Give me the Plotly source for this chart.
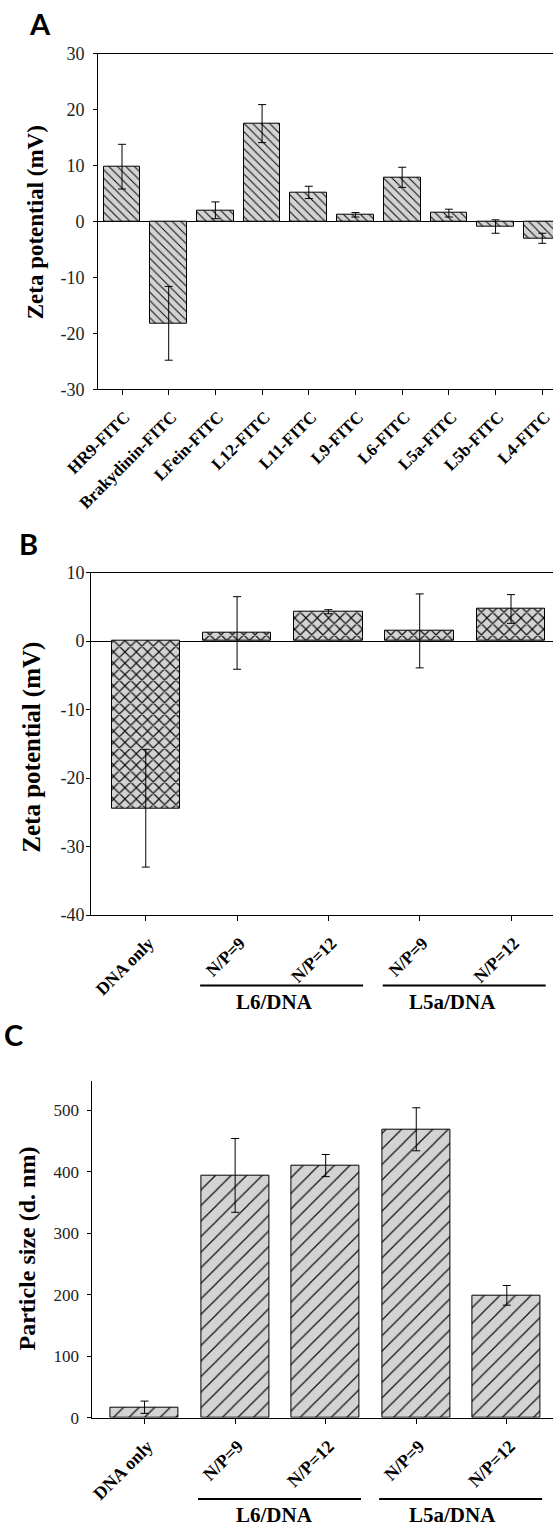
import plotly.graph_objects as go

W, H = 553, 1528

# ---------------- data ----------------
a_labels = ["HR9-FITC", "Brakydinin-FITC", "LFein-FITC", "L12-FITC", "L11-FITC",
            "L9-FITC", "L6-FITC", "L5a-FITC", "L5b-FITC", "L4-FITC"]
a_values = [9.8, -18.2, 2.0, 17.5, 5.2, 1.2, 7.9, 1.5, -0.9, -3.0]
a_errors = [4.0, 6.6, 1.5, 3.4, 1.1, 0.4, 1.8, 0.7, 1.2, 0.9]

bc_labels = ["DNA only", "N/P=9", "N/P=12", "N/P=9", "N/P=12"]
b_values = [-24.4, 1.2, 4.3, 1.5, 4.7]
b_errors = [8.6, 5.3, 0.3, 5.4, 2.1]

c_values = [17, 394, 410, 469, 199]
c_errors = [10, 60, 18, 35, 16]

groups = ["L6/DNA", "L5a/DNA"]
group_members = [[1, 2], [3, 4]]

a_yticks = [-30, -20, -10, 0, 10, 20, 30]
b_yticks = [-40, -30, -20, -10, 0, 10]
c_yticks = [0, 100, 200, 300, 400, 500]

# ---------------- helpers ----------------
def px_x(p):
    return p / W

def px_y(p):
    return 1 - p / H

SERIF = "Liberation Serif"
BAR_BG = "#d3d3d3"

def bar_trace(x, y, err, shape, xa, ya, width, size, solidity):
    return go.Bar(
        x=x, y=y, xaxis=xa, yaxis=ya, width=width,
        marker=dict(color=BAR_BG, line=dict(color="black", width=1),
                    pattern=dict(shape=shape, bgcolor=BAR_BG, fgcolor="#111111",
                                 size=size, solidity=solidity, fillmode="replace")),
        error_y=dict(type="data", array=err, color="black", thickness=1, width=4),
        showlegend=False,
    )

fig = go.Figure()
ia = list(range(len(a_labels)))
ib = list(range(len(bc_labels)))
fig.add_trace(bar_trace(ia, a_values, a_errors, "\\", "x", "y", 0.786, 6, 0.18))
fig.add_trace(bar_trace(ib, b_values, b_errors, "x", "x2", "y2", 0.75, 8, 0.28))
fig.add_trace(bar_trace(ib, c_values, c_errors, "/", "x3", "y3", 0.75, 11, 0.11))

def xaxis(domain_left, rng, labels, mirror, anchor, fs):
    return dict(domain=[px_x(domain_left), 1], range=rng, anchor=anchor, automargin=False,
                tickmode="array", tickvals=list(range(len(labels))), ticktext=[f"<b>{t}</b>" for t in labels],
                tickangle=-45, ticks="outside", ticklen=5, tickcolor="black",
                ticklabelstandoff=5, ticklabelshift=3, ticklabeloverflow="allow",
                showline=True, linecolor="black", linewidth=1, mirror=mirror,
                showgrid=False, zeroline=False,
                tickfont=dict(family=SERIF, size=fs, color="black"))

def yaxis(top, bottom, rng, ticks, anchor, zero, fs, standoff):
    return dict(domain=[px_y(bottom), px_y(top)], range=rng, anchor=anchor, automargin=False,
                tickmode="array", tickvals=ticks, ticktext=[str(t) for t in ticks],
                ticks="outside", ticklen=4, tickcolor="black", ticklabelstandoff=standoff,
                showline=True, linecolor="black", linewidth=1, showgrid=False,
                zeroline=zero, zerolinecolor="black", zerolinewidth=1,
                tickfont=dict(family=SERIF, size=fs, color="#222222"))

fig.update_layout(
    width=W, height=H, margin=dict(l=0, r=0, t=0, b=0, autoexpand=False),
    paper_bgcolor="white", plot_bgcolor="white", bargap=0,
    xaxis=xaxis(98.0, [-0.514, 9.23], a_labels, True, "y", 17),
    yaxis=yaxis(53.7, 389.3, [-30, 30], a_yticks, "x", True, 18, 5),
    xaxis2=xaxis(91.0, [-0.6, 4.46], bc_labels, True, "y2", 17.5),
    yaxis2=yaxis(572.7, 915, [-40, 10], b_yticks, "x2", True, 18, -2),
    xaxis3=xaxis(92.4, [-0.576, 4.51], bc_labels, False, "y3", 18),
    yaxis3=yaxis(1080.7, 1417.7, [0, 548], c_yticks, "x3", False, 17, 5),
)

ann = []
# panel letters
for letter, x, y in [("A", 39.5, 23), ("B", 28, 544), ("C", 13, 1034)]:
    ann.append(dict(text=f"<b>{letter}</b>", x=px_x(x), y=px_y(y), xref="paper", yref="paper",
                    showarrow=False, xanchor="center", yanchor="middle",
                    font=dict(family="Lato", size=29, color="black")))
# y-axis titles
for title, x, y, fs in [("Zeta potential (mV)", 35.3, 222, 23),
                        ("Zeta potential (mV)", 31.7, 747, 25),
                        ("Particle size (d. nm)", 26.5, 1249, 24)]:
    ann.append(dict(text=f"<b>{title}</b>", x=px_x(x), y=px_y(y), xref="paper", yref="paper",
                    showarrow=False, xanchor="center", yanchor="middle", textangle=-90,
                    font=dict(family=SERIF, size=fs, color="black")))

shapes = []
# group brackets for B and C: (axis, line y px, text y px, line offsets, text centres)
for xref, line_y, text_y, offs, tcent in [("x2", 985.5, 1002, (-0.405, 0.38), (1.41, 3.36)),
                                          ("x3", 1499, 1515, (-0.41, 0.39), (1.43, 3.40))]:
    for g, mem, tc in zip(groups, group_members, tcent):
        x0 = mem[0] + offs[0]
        x1 = mem[-1] + offs[1]
        shapes.append(dict(type="line", xref=xref, yref="paper", x0=x0, x1=x1,
                           y0=px_y(line_y), y1=px_y(line_y), line=dict(color="black", width=2)))
        ann.append(dict(text=f"<b>{g}</b>", x=tc, y=px_y(text_y), xref=xref, yref="paper",
                        showarrow=False, xanchor="center", yanchor="middle",
                        font=dict(family=SERIF, size=21, color="black")))

fig.update_layout(annotations=ann, shapes=shapes)
fig.write_html("out.html", config={"displayModeBar": False},
               post_script="document.body.style.margin='0';document.body.style.padding='0';"
                           "document.body.style.overflow='hidden';")
